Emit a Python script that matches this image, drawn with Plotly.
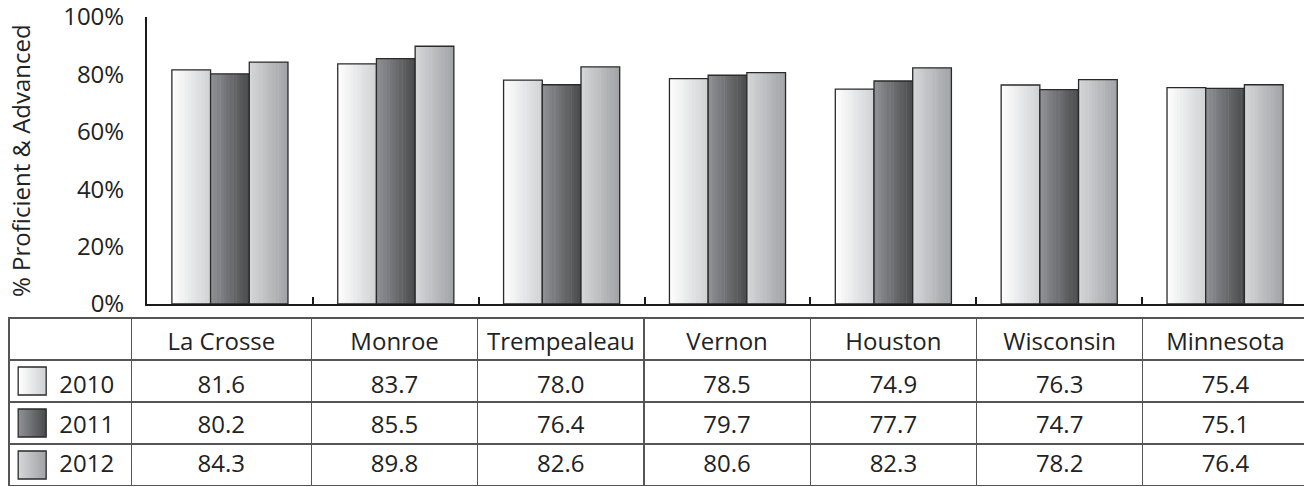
import plotly.graph_objects as go

categories = ["La Crosse", "Monroe", "Trempealeau", "Vernon", "Houston", "Wisconsin", "Minnesota"]
years = ["2010", "2011", "2012"]
vals_2010 = [81.6, 83.7, 78.0, 78.5, 74.9, 76.3, 75.4]
vals_2011 = [80.2, 85.5, 76.4, 79.7, 77.7, 74.7, 75.1]
vals_2012 = [84.3, 89.8, 82.6, 80.6, 82.3, 78.2, 76.4]
y_ticks = [0, 20, 40, 60, 80, 100]
y_ticklabels = ["0%", "20%", "40%", "60%", "80%", "100%"]
y_title = "% Proficient & Advanced"

series = [vals_2010, vals_2011, vals_2012]
# gradient (left colour, right colour) per series
grads = [((255, 255, 255), (207, 209, 211)),
         ((144, 146, 149), (72, 74, 76)),
         ((214, 215, 217), (160, 162, 165))]

W, H = 1312, 487
OFF = 8  # page body margin offset of the plot div
FONT = "Open Sans"
TXT = "#222222"
CLEAR = "rgba(0,0,0,0)"

def px_x(p):
    return (p - OFF) / W

def px_y(p):
    return 1 - (p - OFF) / H

fig = go.Figure()

bargap = 0.30
group_w = 1 - bargap
bar_w = group_w / 3
N = 12
xidx = list(range(len(categories)))

for k, vals in enumerate(series):
    left = -group_w / 2 + k * bar_w
    c0, c1 = grads[k]
    for i in range(N):
        t = (i + 0.5) / N
        col = "rgb(%d,%d,%d)" % tuple(round(c0[j] + (c1[j] - c0[j]) * t) for j in range(3))
        sw = bar_w / N
        width = sw * 1.15 if i < N - 1 else sw
        fig.add_trace(go.Bar(
            x=xidx, y=vals, offset=left + i * sw, width=width,
            marker=dict(color=col, line=dict(width=0)),
            showlegend=False, hoverinfo="skip"))
    fig.add_trace(go.Bar(
        x=xidx, y=vals, offset=left, width=bar_w, name=years[k],
        marker=dict(color=CLEAR, line=dict(color="#2a2a2a", width=1.3)),
        showlegend=False))

# legend swatches inside the table's first column
for k in range(3):
    c0, c1 = grads[k]
    fig.add_trace(go.Scatter(
        x=[0.19], y=[k], xaxis="x2", yaxis="y2", mode="markers",
        marker=dict(symbol="square", size=28,
                    color="rgb(%d,%d,%d)" % c0,
                    gradient=dict(type="horizontal", color="rgb(%d,%d,%d)" % c1),
                    line=dict(color="#2a2a2a", width=1.3)),
        showlegend=False, hoverinfo="skip"))

# table: grid lines
col_widths = [122, 180, 166, 166, 166, 166, 166, 165]
ncol = len(categories) + 1
fig.add_trace(go.Table(
    domain=dict(x=[px_x(9), px_x(1308)], y=[px_y(486), px_y(318)]),
    columnwidth=col_widths,
    header=dict(values=[""] * ncol, height=42, fill=dict(color=CLEAR),
                line=dict(color="#555555", width=1.2)),
    cells=dict(values=[[""] * 3] * ncol, height=42, fill=dict(color=CLEAR),
               line=dict(color="#555555", width=1.2)),
))

# table: text
first_col = ["\u2002\u2002\u2002\u00a0" + y for y in years]
cols = [first_col] + [["%.1f" % series[k][c] for k in range(3)] for c in range(len(categories))]
fig.add_trace(go.Table(
    domain=dict(x=[px_x(9), px_x(1308)], y=[px_y(487), px_y(324)]),
    columnwidth=col_widths,
    header=dict(values=[""] + categories, height=43,
                align="center", fill=dict(color=CLEAR),
                line=dict(color=CLEAR, width=0),
                font=dict(family=FONT, size=24, color=TXT)),
    cells=dict(values=cols, height=39.6,
               align=["left"] + ["center"] * len(categories),
               fill=dict(color=CLEAR),
               line=dict(color=CLEAR, width=0),
               font=dict(family=FONT, size=24, color=TXT)),
))

fig.update_layout(
    width=W, height=H,
    margin=dict(l=0, r=0, t=0, b=0, autoexpand=False),
    paper_bgcolor="white", plot_bgcolor="white",
    barmode="overlay",
    font=dict(family=FONT, size=24, color=TXT),
    showlegend=False,
    xaxis=dict(domain=[px_x(147), px_x(1308)], range=[-0.5, len(categories) - 0.5],
               showticklabels=False, showgrid=False, zeroline=False, automargin=False,
               showline=True, linecolor="#1a1a1a", linewidth=2,
               tickmode="array", tickvals=[i - 0.5 for i in range(len(categories) + 1)],
               ticks="inside", ticklen=7, tickwidth=2, tickcolor="#1a1a1a"),
    yaxis=dict(domain=[px_y(304), px_y(17)], range=[0, 100], automargin=False,
               tickmode="array", tickvals=y_ticks, ticktext=y_ticklabels,
               ticklabeloverflow="allow",
               showgrid=False, zeroline=False,
               showline=True, linecolor="#1a1a1a", linewidth=2,
               ticks="", ticklabelstandoff=16,
               tickfont=dict(family=FONT, size=24, color=TXT)),
    xaxis2=dict(domain=[px_x(9), px_x(131)], range=[0, 1], visible=False, anchor="y2"),
    yaxis2=dict(domain=[px_y(486), px_y(360)], range=[2.5, -0.5], visible=False, anchor="x2"),
    annotations=[dict(text=y_title, xref="paper", yref="paper",
                      x=px_x(21), y=px_y(161), textangle=-90, showarrow=False,
                      xanchor="center", yanchor="middle",
                      font=dict(family=FONT, size=24, color=TXT))],
)

fig.write_html("out.html")
